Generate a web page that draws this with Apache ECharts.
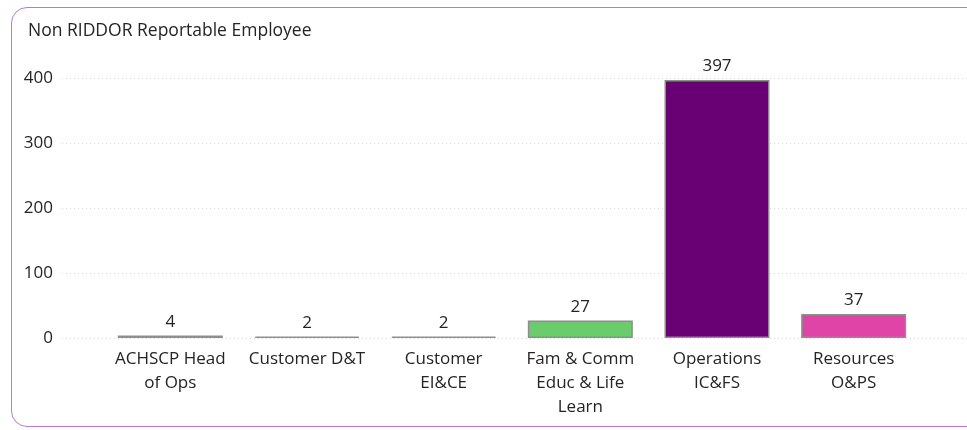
<!DOCTYPE html>
<html>
<head>
<meta charset="utf-8">
<script src="https://cdn.jsdelivr.net/npm/echarts@6/dist/echarts.min.js"></script>
<style>
    html, body { margin: 0; padding: 0; background: #fff; }
    #wrap { position: relative; width: 967px; height: 430px; overflow: hidden; }
    #card {
        position: absolute; left: 11px; top: 7px; width: 980px; height: 420px;
        border: 1.5px solid #b57cc8; border-radius: 16px; box-sizing: border-box;
    }
    #chart { position: absolute; left: 0; top: 0; width: 967px; height: 430px; }
</style>
</head>
<body>
<div id="wrap">
    <div id="card"></div>
    <div id="chart"></div>
</div>
<script>
// 数据
const categories = [
    'ACHSCP Head\nof Ops',
    'Customer D&T',
    'Customer\nEI&CE',
    'Fam & Comm\nEduc & Life\nLearn',
    'Operations\nIC&FS',
    'Resources\nO&PS'
];
const counts = [4, 2, 2, 27, 397, 37];
const barColors = ['#8c8c8c', '#b4b4b4', '#b4b4b4', '#6acc6a', '#690073', '#e044a7'];
const yTicks = [0, 100, 200, 300, 400];

const font = '"Open Sans", "Noto Sans", sans-serif';
const textColor = '#252423';

const chart = echarts.init(document.getElementById('chart'));

const option = {
    animation: false,
    title: {
        text: 'Non RIDDOR Reportable Employee',
        left: 23,
        top: 17,
        textStyle: { fontFamily: font, fontSize: 17.5, fontWeight: 'normal', color: textColor }
    },
    grid: [
        // 背景网格线
        { left: 62, right: 0, top: 78, bottom: 92 },
        // 柱状图
        { left: 102, right: 45, top: 78, bottom: 92 }
    ],
    xAxis: [
        { type: 'value', gridIndex: 0, show: false, min: 0, max: 1 },
        {
            type: 'category',
            gridIndex: 1,
            data: categories,
            axisLine: { show: false },
            axisTick: { show: false },
            axisLabel: {
                interval: 0,
                margin: 9,
                fontFamily: font,
                fontSize: 17,
                lineHeight: 24,
                color: textColor
            }
        }
    ],
    yAxis: [
        {
            type: 'value',
            gridIndex: 0,
            min: yTicks[0],
            max: yTicks[yTicks.length - 1],
            interval: 100,
            axisLine: { show: false },
            axisTick: { show: false },
            axisLabel: { margin: 9, fontFamily: font, fontSize: 17, color: textColor },
            splitLine: { lineStyle: { color: '#d9d9d9', type: [1, 3], width: 1 } }
        },
        {
            type: 'value',
            gridIndex: 1,
            min: yTicks[0],
            max: yTicks[yTicks.length - 1],
            show: false,
            splitLine: { show: false }
        }
    ],
    series: [{
        type: 'bar',
        xAxisIndex: 1,
        yAxisIndex: 1,
        barWidth: 105,
        data: counts.map((v, i) => ({
            value: v,
            itemStyle: { color: barColors[i] }
        })),
        itemStyle: { borderColor: '#8e8e8e', borderWidth: 1.5 },
        label: {
            show: true,
            position: 'top',
            distance: 5,
            fontFamily: font,
            fontSize: 17,
            color: textColor
        }
    }]
};

chart.setOption(option);
</script>
</body>
</html>
